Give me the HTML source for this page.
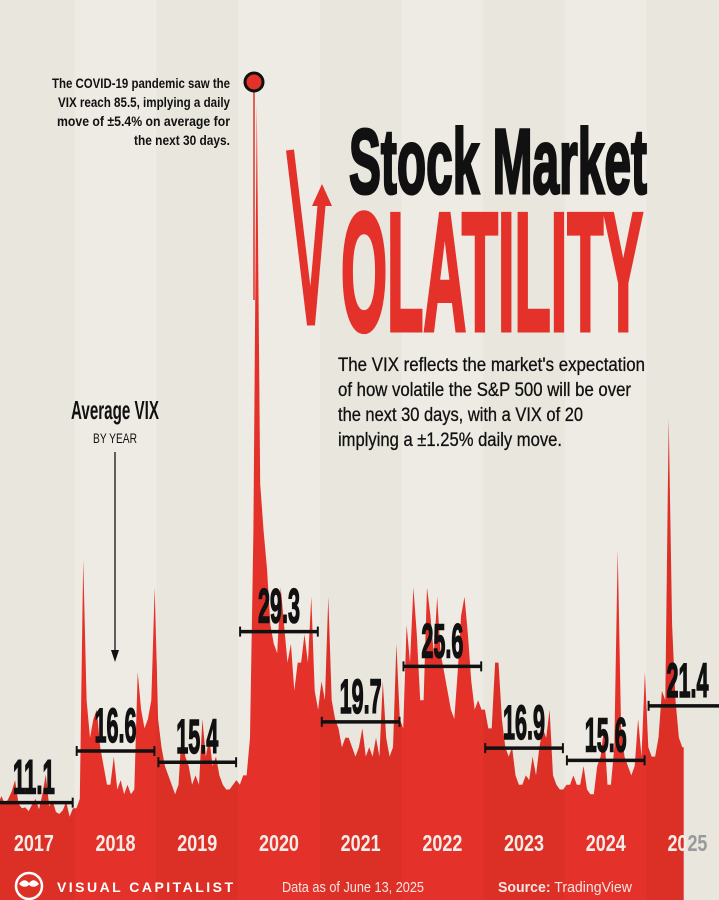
<!DOCTYPE html>
<html><head><meta charset="utf-8"><style>
html,body{margin:0;padding:0;background:#ede9e1;}
svg{display:block;}
</style></head><body>
<svg id="chart" width="719" height="900" viewBox="0 0 719 900" xmlns="http://www.w3.org/2000/svg" font-family="'Liberation Sans Narrow','Liberation Sans',sans-serif">
<rect x="0" y="0" width="719" height="900" fill="#ece9e1"/>
<g id="stripes"></g>
<g id="area"></g>
<g id="avgs"></g>
<g id="years"></g>

<line x1="254" y1="90" x2="254" y2="300" stroke="#e4312a" stroke-width="1.5"/>
<circle cx="254" cy="82" r="9" fill="#e4312a" stroke="#111" stroke-width="3"/>
<g font-weight="bold" font-size="13.5" fill="#111" text-anchor="end">
<text x="230" y="88" textLength="178" lengthAdjust="spacingAndGlyphs">The COVID-19 pandemic saw the</text>
<text x="230" y="107" textLength="172" lengthAdjust="spacingAndGlyphs">VIX reach 85.5, implying a daily</text>
<text x="230" y="126" textLength="173" lengthAdjust="spacingAndGlyphs">move of ±5.4% on average for</text>
<text x="230" y="145" textLength="96" lengthAdjust="spacingAndGlyphs">the next 30 days.</text>
</g>

<text x="349" y="193" font-size="92" font-weight="bold" fill="#111" stroke="#111" stroke-width="3" textLength="298" lengthAdjust="spacingAndGlyphs">Stock Market</text>
<polyline points="290,150 311,325 322,200" fill="none" stroke="#e4312a" stroke-width="8" stroke-linejoin="miter"/>
<polygon points="322,184 312,206 332,206" fill="#e4312a"/>
<text x="341" y="330" font-size="168" font-weight="bold" fill="#e4312a" stroke="#e4312a" stroke-width="5" textLength="302" lengthAdjust="spacingAndGlyphs">OLATILITY</text>

<g font-size="19" fill="#111" stroke="#111" stroke-width="0.3">
<text x="338" y="371" textLength="307" lengthAdjust="spacingAndGlyphs">The VIX reflects the market's expectation</text>
<text x="338" y="396" textLength="293" lengthAdjust="spacingAndGlyphs">of how volatile the S&amp;P 500 will be over</text>
<text x="338" y="421" textLength="245" lengthAdjust="spacingAndGlyphs">the next 30 days, with a VIX of 20</text>
<text x="338" y="446" textLength="224" lengthAdjust="spacingAndGlyphs">implying a ±1.25% daily move.</text>
</g>

<text x="71" y="419" font-size="26" font-weight="bold" fill="#111" textLength="88" lengthAdjust="spacingAndGlyphs">Average VIX</text>
<text x="93" y="443" font-size="14" fill="#111" textLength="44" lengthAdjust="spacingAndGlyphs">BY YEAR</text>
<line x1="115" y1="452" x2="115" y2="652" stroke="#111" stroke-width="1.3"/>
<polygon points="115,662 111,650 119,650" fill="#111"/>

<g>
<g>
<circle cx="29" cy="886" r="13" fill="none" stroke="#fff" stroke-width="2.5"/>
<path d="M19 884 q5 -7 10 -1 q5 -6 10 1 q-5 5 -10 1 q-5 4 -10 -1z" fill="#fff"/>
</g>
<text x="57" y="892" font-family="'Liberation Sans',sans-serif" font-size="14" font-weight="bold" fill="#fff" textLength="176" lengthAdjust="spacing">VISUAL CAPITALIST</text>
<text x="282" y="892" font-size="15" fill="#f4e6e2" textLength="142" lengthAdjust="spacingAndGlyphs">Data as of June 13, 2025</text>
<text x="498" y="892" font-size="15" fill="#f4e6e2" textLength="134" lengthAdjust="spacingAndGlyphs"><tspan font-weight="bold">Source:</tspan> TradingView</text>
</g>
</svg>
<script>
const years = [2017,2018,2019,2020,2021,2022,2023,2024,2025];
const averages = [11.1,16.6,15.4,29.3,19.7,25.6,16.9,15.6,21.4];
const avgLabels = ["11.1","16.6","15.4","29.3","19.7","25.6","16.9","15.6","21.4"];
// semi-monthly VIX readings, Jan 2017 .. mid-June 2025
const vix2017 = [11.5,11.0,11.8,10.9,11.5,12.3,13.5,11.0,10.5,10.6,10.2,10.9,11.5,10.4,12.0,14.1,10.7,11.3,10.1,9.9,10.3,11.2,9.6,10.5];
const vix2018 = [10.5,11.5,37,22,18,20,21,17,15,13,13,16,12.5,13.5,12,13,12,12.5,25,21,19,20,22,34];
const vix2019 = [20,17,15,14,13,12,13,19,16,15,13,14,13,20,16,18,15,16,14,13,12.5,12.5,13,13.5];
const vix2020 = [13,14,14,18,40,85.5,45,40,36,30,28,27,34,30,26,28,23,26,26,29,26,33,23,21];
const vix2021 = [24,22,33,22,20,19,17,18,18,17,16,17,19,16,17,16,18,16,24,18,16,17,28,20];
const vix2022 = [19,30,26,34,29,22,22,34,31,27,33,27,25,23,21,20,25,31,33,29,24,21,22,21];
const vix2023 = [21,19,19,26,26,20,17,16,17,14,13,13,14,13.5,16,14,17,19,18,21,14,13,12.5,12.5];
const vix2024 = [13,13,14,13,13,15,12.5,12,12,15,16,19,13,13,17,38,19,16,15,14,15,20,16,25];
const vix2025 = [17,16,16,18,23,22,52,30,22,18,17];
const series = [vix2017,vix2018,vix2019,vix2020,vix2021,vix2022,vix2023,vix2024,vix2025];

const NS='http://www.w3.org/2000/svg';
const X0=-7, YW=81.7;
function xScale(t){return X0+YW*t;}
function yScale(v){return 907-9.4*v;}
function mk(tag,attrs,parent){const e=document.createElementNS(NS,tag);for(const k in attrs)e.setAttribute(k,attrs[k]);parent.appendChild(e);return e;}

const stripes=document.getElementById('stripes');
for(let i=0;i<10;i++){
  const r=mk('rect',{x:xScale(i),y:0,width:YW,height:900,fill:i%2?'#eeebe4':'#e9e6de'},stripes);
  
  
}

const area=document.getElementById('area');
const all=[];
series.forEach(arr=>arr.forEach(v=>all.push(v)));
const n=all.length;
let d=`M${xScale(0)},900`;
all.forEach((v,i)=>{d+=` L${xScale(i/24+1/48).toFixed(1)},${yScale(v).toFixed(1)}`;});
const tEnd=8+5.45/12;
d+=` L${xScale(tEnd).toFixed(1)},${yScale(all[n-1]).toFixed(1)} L${xScale(tEnd).toFixed(1)},900 Z`;
const clip=mk('clipPath',{id:'areaClip'},area);
mk('path',{d:d},clip);
const ag=mk('g',{'clip-path':'url(#areaClip)'},area);
years.forEach((y,i)=>{
  const r=mk('rect',{x:xScale(i),y:0,width:YW+0.5,height:900,fill:i%2?'#e4322a':'#dc3026'},ag);
  
  
});

const avgs=document.getElementById('avgs');
averages.forEach((a,i)=>{
  const x1=xScale(i)+2, x2=i===averages.length-1?720:xScale(i+1)-2, y=yScale(a);
  const g=mk('g',{},avgs);
  
  
  mk('line',{x1:x1,y1:y,x2:x2,y2:y,stroke:'#111','stroke-width':3.5},g);
  mk('line',{x1:x1,y1:y-5,x2:x1,y2:y+5,stroke:'#111','stroke-width':2},g);
  if(i<averages.length-1) mk('line',{x1:x2,y1:y-5,x2:x2,y2:y+5,stroke:'#111','stroke-width':2},g);
  const cx=i===averages.length-1?xScale(i)+YW/2:(x1+x2)/2;
  const t=mk('text',{x:cx-21,y:y-9,'font-size':48,'font-weight':'bold',fill:'#111',textLength:42,lengthAdjust:'spacingAndGlyphs',stroke:'#111','stroke-width':1.6},g);
  t.textContent=avgLabels[i];
  
  
});

const yl=document.getElementById('years');
years.forEach((y,i)=>{
  const t=mk('text',{x:xScale(i)+YW/2-20,y:851,'font-size':23,'font-weight':'bold',fill:'#f6ece8',textLength:40,lengthAdjust:'spacingAndGlyphs'},yl);
  if(y===2025){t.innerHTML='20<tspan fill="#9a9a9a">25</tspan>';}else t.textContent=String(y);
  
  
});
</script>
</body></html>
